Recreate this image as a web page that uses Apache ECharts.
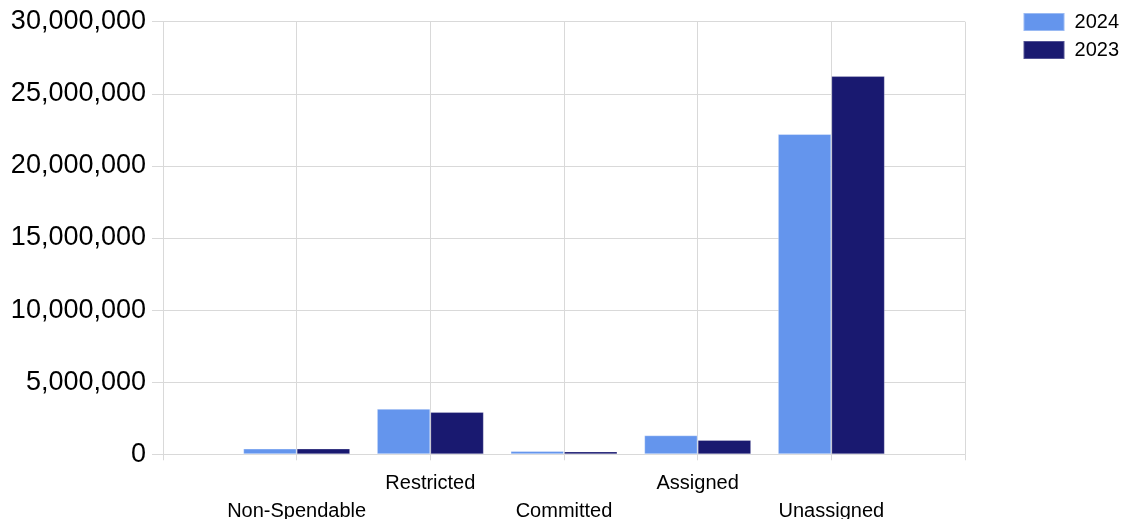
<!DOCTYPE html>
<html>
<head>
<meta charset="utf-8">
<script src="https://cdn.jsdelivr.net/npm/echarts@6/dist/echarts.min.js"></script>
<style>
  html, body { margin: 0; padding: 0; background: #ffffff; }
  #chart { width: 1126px; height: 519px; }
</style>
</head>
<body>
<div id="chart"></div>
<script>
// Fund balance classifications
const categories = ['Non-Spendable', 'Restricted', 'Committed', 'Assigned', 'Unassigned'];
const values2024 = [400000, 3160000, 230000, 1320000, 22210000];
const values2023 = [400000, 2930000, 200000, 990000, 26230000];
const yTicks = { min: 0, max: 30000000, interval: 5000000 };

// Empty slots at each end so the categories sit on ticks with a spare interval either side
const axisCats = [''].concat(categories, ['']);
const pad = arr => [null].concat(arr, [null]);

const chart = echarts.init(document.getElementById('chart'), null, { renderer: 'canvas' });
const gridColor = '#d9d9d9';
const font = 'Liberation Sans, Arial, sans-serif';

chart.setOption({
  animation: false,
  textStyle: { fontFamily: font },
  legend: {
    orient: 'vertical',
    right: 7,
    top: 12,
    padding: 0,
    itemWidth: 41,
    itemHeight: 18,
    itemGap: 8,
    icon: 'rect',
    textStyle: { fontSize: 20, lineHeight: 18, color: '#000', fontFamily: font, padding: [0, 0, 0, 5] },
    data: ['2024', '2023']
  },
  grid: { left: 163, right: 161, top: 21.7, bottom: 64.7, containLabel: false, outerBoundsMode: 'none' },
  xAxis: {
    type: 'category',
    data: axisCats,
    boundaryGap: false,
    axisLine: { show: true, lineStyle: { color: gridColor } },
    axisTick: { show: true, length: 6, lineStyle: { color: gridColor } },
    splitLine: { show: true, lineStyle: { color: gridColor } },
    axisLabel: {
      interval: 0,
      margin: 15,
      fontSize: 20,
      color: '#000',
      lineHeight: 28,
      fontFamily: font,
      formatter: function (v, i) {
        // alternate rows: odd categories on the first line, even on the second
        return (i % 2 === 1) ? '\n' + v : v;
      }
    }
  },
  yAxis: {
    type: 'value',
    min: yTicks.min,
    max: yTicks.max,
    interval: yTicks.interval,
    axisLine: { show: true, lineStyle: { color: gridColor } },
    axisTick: { show: true, length: 11, lineStyle: { color: gridColor } },
    splitLine: { show: true, lineStyle: { color: gridColor } },
    axisLabel: {
      margin: 17,
      fontSize: 27,
      color: '#000',
      fontFamily: font,
      formatter: v => v.toLocaleString('en-US')
    }
  },
  series: [
    {
      name: '2024',
      type: 'bar',
      data: pad(values2024),
      barWidth: '40%',
      barGap: '0%',
      itemStyle: { color: '#6495ed', borderColor: 'rgba(255,255,255,0.35)', borderWidth: 1 }
    },
    {
      name: '2023',
      type: 'bar',
      data: pad(values2023),
      barWidth: '40%',
      barGap: '0%',
      itemStyle: { color: '#191970', borderColor: 'rgba(255,255,255,0.25)', borderWidth: 1 }
    }
  ]
});
</script>
</body>
</html>
